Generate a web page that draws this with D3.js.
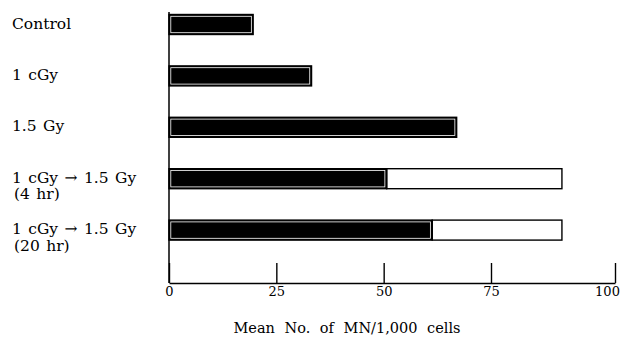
<!DOCTYPE html>
<html>
<head>
<meta charset="utf-8">
<script src="https://cdn.jsdelivr.net/npm/d3@7"></script>
<style>
  body { margin: 0; background: #fff; }
  svg text { font-family: "DejaVu Serif", "Liberation Serif", serif; fill: #000; }
</style>
</head>
<body>
<div id="chart"></div>
<script>
// groups, top to bottom
var labelLines = [["Control"], ["1 cGy"], ["1.5 Gy"], ["1 cGy \u2192 1.5 Gy", "(4 hr)"], ["1 cGy \u2192 1.5 Gy", "(20 hr)"]];
// black part of each bar, and where the open part ends
var blackValues = [19.6, 33.2, 67.0, 50.7, 61.3];
var totalValues = [19.6, 33.2, 67.0, 89.3, 89.3];
var tickValues = [0, 25, 50, 75, 100];
var axisTitle = "Mean No. of MN/1,000 cells";

var width = 622, height = 346,
    barH = 20,
    axisY = 283;

var svg = d3.select("#chart").append("svg")
    .attr("width", width)
    .attr("height", height);

// the printed axis is not quite even, last interval is stretched
var x = d3.scaleLinear().domain([0, 75, 100]).range([169, 491, 615]);

var y = d3.scalePoint()
    .domain(d3.range(labelLines.length))
    .range([-1.2, 255.8])
    .padding(0.5);

var rows = labelLines.map(function(l, i) {
  return {lines: l, black: blackValues[i], total: totalValues[i], i: i};
});

// open (white) segments
svg.selectAll(".open").data(rows.filter(function(d) { return d.total > d.black; }))
  .enter().append("rect")
    .attr("class", "open")
    .attr("x", function(d) { return x(d.black); })
    .attr("y", function(d) { return y(d.i) - barH / 2; })
    .attr("width", function(d) { return x(d.total) - x(d.black); })
    .attr("height", barH)
    .style("fill", "#fff")
    .style("stroke", "#000")
    .style("stroke-width", 1.4);

// solid segments
svg.selectAll(".solid").data(rows)
  .enter().append("rect")
    .attr("class", "solid")
    .attr("x", x(0))
    .attr("y", function(d) { return y(d.i) - barH / 2; })
    .attr("width", function(d) { return x(d.black) - x(0); })
    .attr("height", barH)
    .style("fill", "#000")
    .style("stroke", "#000")
    .style("stroke-width", 1.4);

// thin light rim inside the solid bars
svg.selectAll(".rim").data(rows)
  .enter().append("rect")
    .attr("class", "rim")
    .attr("x", x(0) + 1.8)
    .attr("y", function(d) { return y(d.i) - barH / 2 + 1.8; })
    .attr("width", function(d) { return x(d.black) - x(0) - 3.6; })
    .attr("height", barH - 3.6)
    .style("fill", "none")
    .style("stroke", "#fff")
    .style("stroke-width", 0.8);

// vertical axis line
svg.append("line")
    .attr("x1", x(0)).attr("x2", x(0))
    .attr("y1", 12).attr("y2", axisY)
    .style("stroke", "#000")
    .style("stroke-width", 1.5);

// x axis, ticks point up
var xAxis = d3.axisBottom(x)
    .tickValues(tickValues)
    .tickSize(-20)
    .tickSizeOuter(0)
    .tickPadding(0);

var gx = svg.append("g")
    .attr("transform", "translate(0," + axisY + ")")
    .call(xAxis);

gx.select(".domain").style("stroke", "#000").style("stroke-width", 1.5);
gx.selectAll(".tick line").style("stroke", "#000").style("stroke-width", 1.4);
gx.selectAll(".tick text")
    .attr("y", 13)
    .attr("dy", 0)
    .style("font-size", "13px")
    .style("font-family", "DejaVu Serif")
    .attr("dx", function(d) { return d === 100 ? -8 : 0; });

// category labels, one text per line
rows.forEach(function(d) {
  d.lines.forEach(function(t, j) {
    svg.append("text")
        .attr("class", "cat")
        .attr("x", j === 0 ? 12 : 14)
        .attr("y", y(d.i) + 4 + j * 16.5)
        .style("font-size", "15.5px")
        .style("word-spacing", "1.5px")
        .text(t);
  });
});

// axis title
svg.append("text")
    .attr("x", 347)
    .attr("y", 333)
    .attr("text-anchor", "middle")
    .style("font-size", "14.5px")
    .style("word-spacing", "5px")
    .text(axisTitle);
</script>
</body>
</html>
